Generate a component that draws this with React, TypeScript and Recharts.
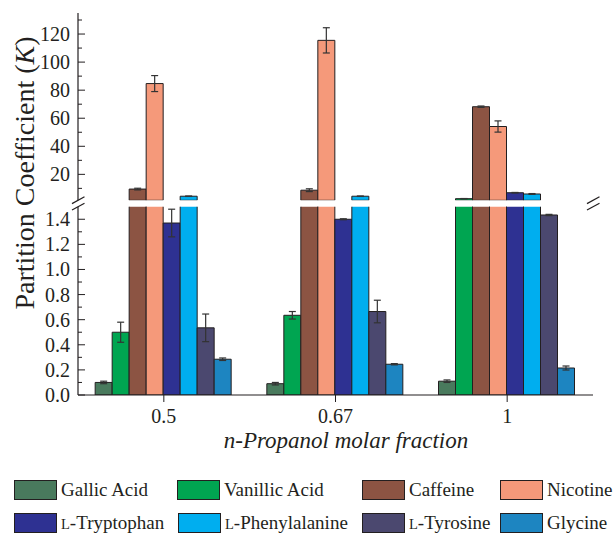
import React from 'react';
import { BarChart, Bar, XAxis, YAxis, ErrorBar } from 'recharts';

const fractions = ['0.5', '0.67', '1'];

const gallicAcid = [0.10, 0.09, 0.11];
const gallicAcidErr = [0.01, 0.01, 0.01];
const vanillicAcid = [0.50, 0.635, 2.65];
const vanillicAcidErr = [0.08, 0.03, 0.12];
const caffeine = [9.5, 8.7, 68.2];
const caffeineErr = [0.6, 1.0, 0.5];
const nicotine = [84.7, 115.5, 54.1];
const nicotineErr = [5.7, 9.0, 4.0];
const tryptophan = [1.37, 1.40, 6.9];
const tryptophanErr = [0.11, 0.004, 0.2];
const phenylalanine = [4.4, 4.4, 6.0];
const phenylalanineErr = [0.15, 0.15, 0.3];
const tyrosine = [0.535, 0.665, 1.434];
const tyrosineErr = [0.11, 0.09, 0.005];
const glycine = [0.285, 0.245, 0.215];
const glycineErr = [0.01, 0.005, 0.016];

const upperTicks = [10, 20, 30, 40, 50, 60, 70, 80, 90, 100, 110, 120, 130];
const lowerTicks = [0, 0.1, 0.2, 0.3, 0.4, 0.5, 0.6, 0.7, 0.8, 0.9, 1.0, 1.1, 1.2, 1.3, 1.4];

const BREAK = 1.5; // axis break: lower panel 0-1.5, upper panel 1.5-135

const series = [
  { key: 'gallic', name: 'Gallic Acid', color: '#497A5D', values: gallicAcid, err: gallicAcidErr },
  { key: 'vanillic', name: 'Vanillic Acid', color: '#00A551', values: vanillicAcid, err: vanillicAcidErr },
  { key: 'caffeine', name: 'Caffeine', color: '#8C5443', values: caffeine, err: caffeineErr },
  { key: 'nicotine', name: 'Nicotine', color: '#F5997A', values: nicotine, err: nicotineErr },
  { key: 'tryptophan', name: 'Tryptophan', prefix: 'L', color: '#2E3192', values: tryptophan, err: tryptophanErr },
  { key: 'phenylalanine', name: 'Phenylalanine', prefix: 'L', color: '#00AEEF', values: phenylalanine, err: phenylalanineErr },
  { key: 'tyrosine', name: 'Tyrosine', prefix: 'L', color: '#4B486F', values: tyrosine, err: tyrosineErr },
  { key: 'glycine', name: 'Glycine', color: '#1D85C1', values: glycine, err: glycineErr },
];

// upper panel only shows bars that pass the break; error bars sit in the panel where the bar ends
const data = fractions.map((cat, i) => {
  const row: Record<string, any> = { cat };
  series.forEach(s => {
    const v = s.values[i];
    row[s.key] = v;
    row[s.key + 'Up'] = v > BREAK ? v : null;
    row[s.key + 'ErrUp'] = v > BREAK ? s.err[i] : null;
    row[s.key + 'ErrLo'] = v <= BREAK ? s.err[i] : null;
  });
  return row;
});

const INK = '#231F20';
const FONT = '"Liberation Serif", "Times New Roman", serif';
const W = 614;
const H = 533;

// legend columns (left edge of the swatch)
const legendCols = [[14, 177, 362, 500], [14, 178, 362, 500]];

const YTick = ({ x, y, payload, isMajor, fmt }: any) => {
  const v = payload.value;
  const major = isMajor(v);
  return (
    <g>
      <line x1={x} y1={y} x2={x + (major ? 7 : 4)} y2={y} stroke={INK} strokeWidth={1} />
      {major && (
        <text x={x - 8} y={y} dy="0.35em" textAnchor="end" fontSize={20} fontFamily={FONT} fill={INK}>
          {fmt(v)}
        </text>
      )}
    </g>
  );
};

const bars = (valueSuffix: string, errSuffix: string) =>
  series.map(s => (
    <Bar key={s.key} yAxisId="l" dataKey={s.key + valueSuffix} fill={s.color} stroke={INK} strokeWidth={1} isAnimationActive={false}>
      <ErrorBar dataKey={s.key + errSuffix} width={3.5} stroke="#333" strokeWidth={1.2} />
    </Bar>
  ));

export default function App() {
  const axisLine = { stroke: INK, strokeWidth: 1.2 };
  return (
    <div style={{ position: 'absolute', left: 0, top: 0, width: W, height: H, background: '#fff', fontFamily: FONT }}>
      {/* upper panel */}
      <div style={{ position: 'absolute', left: 0, top: 0 }}>
        <BarChart width={W} height={H} data={data} margin={{ top: 13, right: 21, bottom: 332.7, left: 0 }} barCategoryGap="10%" barGap={0}>
          <XAxis dataKey="cat" orientation="top" height={0} tick={false} tickLine={false} axisLine={axisLine} />
          <YAxis
            yAxisId="l"
            width={78}
            type="number"
            domain={[BREAK, 135]}
            allowDataOverflow
            ticks={upperTicks}
            interval={0}
            tickSize={0}
            tickMargin={0}
            tickLine={false}
            axisLine={axisLine}
            tick={(p: any) => <YTick {...p} isMajor={(v: number) => v % 20 === 0} fmt={(v: number) => String(v)} />}
          />
          <YAxis yAxisId="r" orientation="right" width={0} domain={[BREAK, 135]} tick={false} tickLine={false} axisLine={axisLine} />
          {bars('Up', 'ErrUp')}
        </BarChart>
      </div>
      {/* lower panel */}
      <div style={{ position: 'absolute', left: 0, top: 0 }}>
        <BarChart width={W} height={H} data={data} margin={{ top: 206.7, right: 21, bottom: 108, left: 0 }} barCategoryGap="10%" barGap={0}>
          <XAxis
            dataKey="cat"
            height={30}
            tickSize={7}
            tickMargin={7}
            tickLine={{ stroke: INK }}
            axisLine={axisLine}
            tick={{ fontSize: 20, fontFamily: FONT, fill: INK }}
          />
          <YAxis
            yAxisId="l"
            width={78}
            type="number"
            domain={[0, BREAK]}
            allowDataOverflow
            ticks={lowerTicks}
            interval={0}
            tickSize={0}
            tickMargin={0}
            tickLine={false}
            axisLine={axisLine}
            tick={(p: any) => <YTick {...p} isMajor={(v: number) => Math.round(v * 10) % 2 === 0} fmt={(v: number) => v.toFixed(1)} />}
          />
          <YAxis yAxisId="r" orientation="right" width={0} domain={[0, BREAK]} tick={false} tickLine={false} axisLine={axisLine} />
          {bars('', 'ErrLo')}
        </BarChart>
      </div>
      {/* break marks and axis titles */}
      <svg width={W} height={H} style={{ position: 'absolute', left: 0, top: 0, pointerEvents: 'none' }}>
        {[78, 593].map(x => (
          <g key={x} stroke={INK} strokeWidth={1.2}>
            <line x1={x - 6} y1={203.6} x2={x + 6.5} y2={196.8} />
            <line x1={x - 6} y1={210} x2={x + 6.5} y2={203.2} />
          </g>
        ))}
        <text
          transform="translate(34,173) rotate(-90)"
          textAnchor="middle"
          fontSize={28}
          fontFamily={FONT}
          fill={INK}
        >
          Partition Coefficient (<tspan fontStyle="italic">K</tspan>)
        </text>
        <text x={346} y={448} textAnchor="middle" fontSize={23} fontStyle="italic" fontFamily={FONT} fill={INK}>
          n-Propanol molar fraction
        </text>
      </svg>
      {/* legend */}
      {series.map((s, i) => {
        const row = Math.floor(i / 4);
        const col = i % 4;
        return (
          <div
            key={s.key}
            style={{
              position: 'absolute',
              left: legendCols[row][col],
              top: 479 + row * 33,
              height: 21,
              display: 'flex',
              alignItems: 'center',
              whiteSpace: 'nowrap',
              fontSize: 19,
              color: INK,
            }}
          >
            <span style={{ width: 43, height: 20, background: s.color, border: `1px solid ${INK}`, boxSizing: 'border-box', marginRight: 4 }} />
            <span>
              {s.prefix && <span style={{ fontSize: 14.5 }}>{s.prefix}</span>}
              {s.prefix ? '-' : ''}
              {s.name}
            </span>
          </div>
        );
      })}
    </div>
  );
}
